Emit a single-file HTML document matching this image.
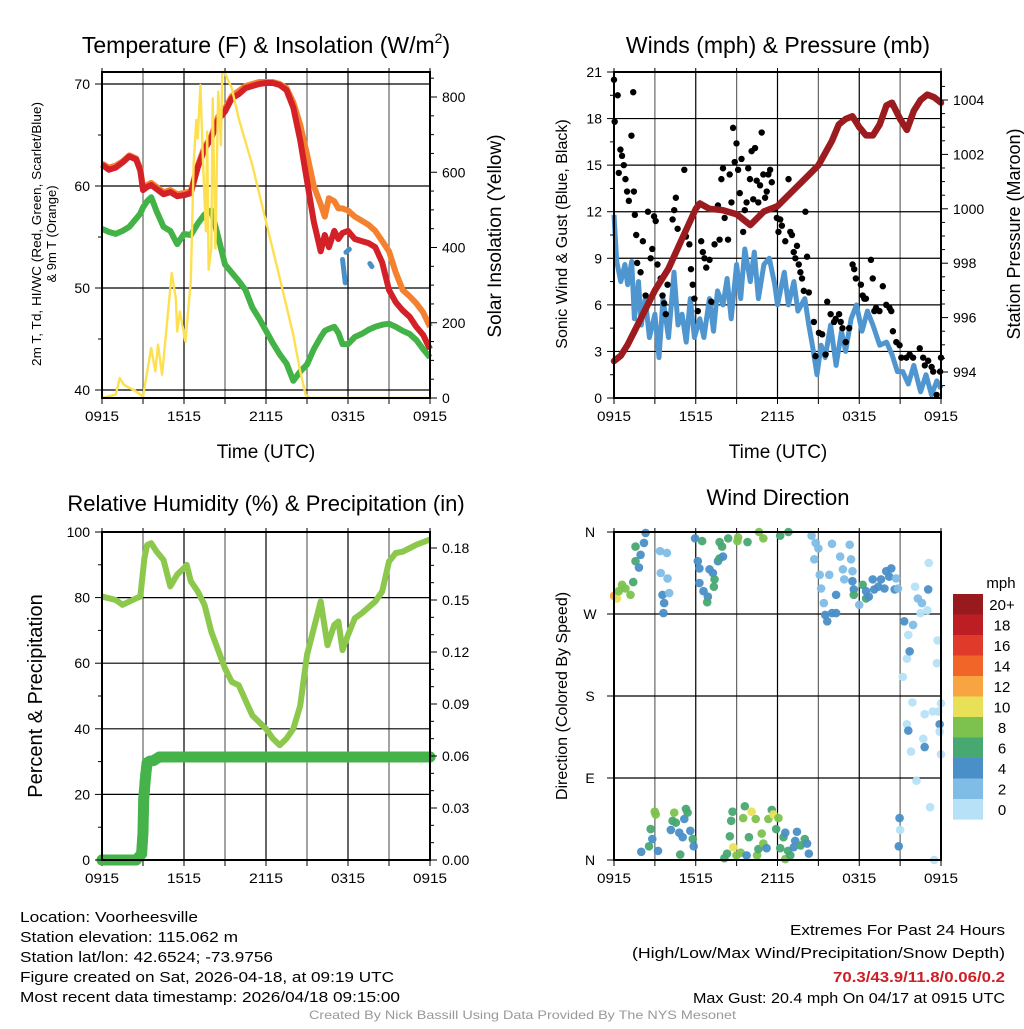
<!DOCTYPE html>
<html><head><meta charset="utf-8"><style>
html,body{margin:0;padding:0;background:#fff}
svg text{font-family:"Liberation Sans",Arial,sans-serif;fill:#000}
</style></head><body>
<svg id="chart" width="1024" height="1024" viewBox="0 0 1024 1024" xmlns="http://www.w3.org/2000/svg">
<rect width="1024" height="1024" fill="#fff"/>
<g id="p1"></g>
<g id="p2"></g>
<g id="p3"></g>
<g id="p4"></g>
<g id="legend"></g>
<text x="266" y="53" font-size="23" text-anchor="middle">Temperature (F) &amp; Insolation (W/m<tspan dy="-10" font-size="14">2</tspan><tspan dy="10">)</tspan></text>
<g font-size="15">
<text x="20" y="922" textLength="178" lengthAdjust="spacingAndGlyphs">Location: Voorheesville</text>
<text x="20" y="942" textLength="218" lengthAdjust="spacingAndGlyphs">Station elevation: 115.062 m</text>
<text x="20" y="962" textLength="253" lengthAdjust="spacingAndGlyphs">Station lat/lon: 42.6524; -73.9756</text>
<text x="20" y="982" textLength="374" lengthAdjust="spacingAndGlyphs">Figure created on Sat, 2026-04-18, at 09:19 UTC</text>
<text x="20" y="1002" textLength="380" lengthAdjust="spacingAndGlyphs">Most recent data timestamp: 2026/04/18 09:15:00</text>
</g>
<g font-size="15">
<text x="790" y="935" textLength="215" lengthAdjust="spacingAndGlyphs">Extremes For Past 24 Hours</text>
<text x="632" y="958" textLength="373" lengthAdjust="spacingAndGlyphs">(High/Low/Max Wind/Precipitation/Snow Depth)</text>
<text x="833" y="982" textLength="172" lengthAdjust="spacingAndGlyphs" font-weight="bold" style="fill:#cc1f26">70.3/43.9/11.8/0.06/0.2</text>
<text x="693" y="1003" textLength="312" lengthAdjust="spacingAndGlyphs">Max Gust: 20.4 mph On 04/17 at 0915 UTC</text>
</g>
<text x="309" y="1019" font-size="12" textLength="427" lengthAdjust="spacingAndGlyphs" style="fill:#999">Created By Nick Bassill Using Data Provided By The NYS Mesonet</text>
</svg>
<script>
// ---- Panel 1 data (hours since 0915 UTC) ----
const tT=[0,0.5,1,1.5,2,2.5,2.8,3,3.3,3.6,4,4.5,5,5.5,6,6.5,7,7.5,8,8.5,9,9.5,10,10.5,11,11.5,12,12.5,13,13.5,14,14.5,15,15.5,16,16.3,16.6,17,17.3,17.6,18,18.5,19,19.5,20,20.5,21,21.5,22,22.5,23,23.5,24];
const airT=[62.1,61.6,61.8,62.3,62.9,62.6,61.5,59.6,59.9,60.1,59.7,59.2,59.4,59.0,59.1,59.3,61.8,63.6,64.7,66.5,67.3,68.6,69.0,69.6,69.8,70.0,70.1,70.1,69.9,69.4,67.7,64.5,60.5,56.5,53.6,55.2,54.0,55.6,54.8,55.4,55.6,54.8,54.6,54.4,54.0,52.5,49.8,48.6,47.8,47.2,46.2,45.4,44.0];
const nineT=[62.2,61.8,62.0,62.4,63.0,62.7,61.7,59.8,60.1,60.3,59.9,59.4,59.6,59.2,59.3,59.5,62.0,63.8,64.9,66.8,67.6,68.8,69.3,69.8,70.0,70.2,70.2,70.2,70.0,69.6,68.2,66.0,63.1,60.0,58.2,57.0,58.8,58.5,57.8,57.8,57.6,57.0,56.6,56.2,55.6,54.6,53.6,51.5,49.8,49.2,48.5,47.6,46.2];
const dewT=[55.8,55.5,55.3,55.6,56.0,56.8,57.3,57.9,58.5,58.9,57.5,56.0,55.6,54.3,55.3,55.2,56.3,57.2,57.6,55.0,52.3,51.5,50.7,49.8,48.1,47.0,45.8,44.6,43.5,42.6,40.9,41.8,42.5,44.0,45.2,45.8,46.0,46.2,45.6,44.5,44.5,45.2,45.5,45.9,46.2,46.4,46.5,46.2,45.8,45.5,44.9,44.0,43.2];
const wcT=[17.6,17.8,17.85,18.1,18.2,19.6,19.75];
const wcV=[52.8,50.5,53.5,53.8,53.2,52.4,52.1];
const solT=[0,1,1.3,1.6,2,2.4,3,3.6,3.9,4.1,4.4,4.7,5.1,5.4,5.5,5.7,6.1,6.5,6.7,6.9,7,7.2,7.4,7.6,7.7,7.8,8,8.1,8.3,8.5,8.7,8.8,9,9.5,10,11,12,13,14,14.5,14.9,15.2,24];
const solV=[0,9,53,35,27,20,4,133,71,142,62,177,332,265,177,230,150,310,620,739,690,832,620,443,708,341,398,796,398,814,672,867,863,823,743,619,469,319,168,71,9,0,0];
// ---- Panel 2 data ----
const sonT=[0,0.2,0.5,0.8,1,1.3,1.5,1.8,2,2.3,2.6,3,3.3,3.6,4,4.4,4.7,5,5.3,5.6,5.9,6.3,6.6,7,7.3,7.6,8,8.3,8.6,9,9.3,9.6,10,10.3,10.6,11,11.4,11.8,12,12.5,12.8,13.2,13.5,14,14.3,14.6,14.9,15.2,15.5,15.9,16.3,16.7,17,17.4,17.8,18.2,18.6,19,19.5,20,20.4,20.8,21.2,21.6,22,22.5,22.9,23.3,23.7,24];
const sonV=[11.8,8.8,7.5,8.6,7.3,8.8,5.1,7.5,4.7,6.4,3.9,5.4,2.6,6.4,3.9,8.1,4.7,5.4,3.6,6.4,3.9,5.1,3.9,6.4,4.3,6.9,6.0,7.7,5.1,8.6,6.4,9.6,7.5,9.4,6.4,8.6,9.0,7.3,6.0,8.1,6.0,7.5,5.6,6.4,4.7,3.2,1.5,3.4,2.6,4.7,2.1,4.3,3.0,5.1,6.0,4.3,5.6,4.7,3.4,3.6,2.8,1.7,1.7,0.9,2.1,0.4,1.5,0.2,1.1,0.6];
const gustT=[0,0.05,0.27,0.35,0.47,0.59,0.72,0.84,0.96,1.09,1.41,1.28,1.46,1.53,1.63,1.70,1.95,2.12,2.32,2.49,2.69,2.81,2.94,3.06,3.19,3.43,3.56,3.68,3.80,3.93,4.30,4.42,4.54,4.67,5.16,5.28,5.53,5.65,5.78,5.90,6.15,6.40,6.52,6.64,6.77,7.01,7.14,7.38,7.63,7.75,7.88,8.00,8.12,8.37,8.49,8.62,8.74,8.86,8.99,9.11,9.23,9.36,9.48,9.60,9.73,9.85,9.98,10.10,10.22,10.35,10.47,10.59,10.72,10.84,10.96,11.09,11.21,11.33,11.46,11.58,11.83,11.95,12.07,12.20,12.32,12.57,12.81,12.94,13.06,13.19,13.31,13.43,13.56,13.68,13.80,13.93,14.05,14.17,14.30,14.67,14.79,15.04,15.28,15.53,15.65,15.90,16.15,16.27,16.52,16.64,16.77,17.01,17.26,17.51,17.63,17.75,18.12,18.25,18.37,18.49,18.86,18.99,19.11,19.23,19.48,19.73,19.98,20.22,20.35,20.47,20.72,20.96,21.09,21.46,21.70,21.95,22.44,22.69,22.81,23.06,23.31,23.43,23.68,23.93,24.0];
const gustV=[20.5,17.8,19.5,14.5,16.0,15.6,15.0,14.1,13.3,12.7,19.7,16.9,13.3,11.8,10.5,8.7,8.1,10.1,6.6,12.0,9.0,9.6,11.7,11.4,8.6,7.7,6.6,6.1,5.4,7.3,11.5,12.1,12.9,10.9,14.7,10.4,9.9,8.3,7.3,6.4,5.6,10.1,9.4,9.0,8.4,8.9,6.2,9.9,12.4,10.2,14.1,14.8,11.6,10.2,14.4,12.6,17.4,15.2,16.4,14.7,13.2,15.4,10.7,12.1,12.6,14.8,14.1,15.9,12.8,16.1,14.0,12.6,13.7,17.1,14.4,12.9,13.3,14.4,14.7,13.9,12.2,11.6,10.7,11.5,11.1,10.1,14.1,10.7,10.5,9.4,9.0,9.8,8.6,8.1,7.7,6.9,12.0,9.1,6.8,4.9,2.7,4.2,4.1,2.8,6.2,5.4,4.9,5.1,5.4,4.9,4.5,3.6,4.5,8.6,8.3,7.7,7.3,6.6,6.4,6.4,8.9,7.7,5.6,5.8,5.6,7.2,6.0,5.8,5.6,4.3,3.6,3.4,2.6,2.6,2.8,2.6,3.2,2.6,2.1,2.4,2.0,1.7,0.2,1.7,2.6];
const presT=[0,0.5,1,2,3,4,5,6,6.3,7,8,9,10,11,12,13,14,15,16,16.5,17,17.5,18,18.5,19,19.5,20,20.4,21,21.5,22,22.5,23,23.5,24];
const presV=[994.4,994.6,995.0,996.0,997.0,997.8,998.9,1000.0,1000.2,1000.0,999.95,999.8,999.4,999.9,1000.1,1000.6,1001.1,1001.6,1002.5,1003.1,1003.3,1003.4,1003.0,1002.7,1002.7,1003.1,1003.8,1003.9,1003.3,1002.9,1003.6,1004.0,1004.2,1004.1,1003.9];
// ---- Panel 3 data ----
const rhT=[0,1,1.5,2.5,2.8,3.1,3.3,3.6,4,4.5,5,5.5,6,6.2,6.5,7,7.5,8,9,9.5,10,11,12,12.5,13,13.5,14,14.5,15,15.5,16,16.5,17,17.3,17.6,18,18.5,19,20,20.5,21,21.5,22,23,24];
const rhV=[80.3,79.3,77.8,79.8,80.3,92,96,96.6,94,91.5,83.4,87,89,90,85,81.9,77.8,69.6,58.4,54.3,53.3,44.1,40,37,35,37,40,47,62.5,70.6,78.8,65.5,71.7,72.7,64,68.6,73.7,75.2,78.8,81.9,91,93.6,94,96.1,97.7];
const prT=[0,0.5,1,1.5,2,2.5,2.9,3.0,3.05,3.1,3.15,3.2,3.3,3.5,3.8,4.2,5,6,8,10,12,14,16,18,20,22,24];
const prV=[0,0,0,0,0,0,0.0035,0.016,0.035,0.04,0.045,0.049,0.056,0.057,0.0575,0.0594,0.0594,0.0594,0.0594,0.0594,0.0594,0.0594,0.0594,0.0594,0.0594,0.0594,0.0594];
// ---- Panel 4 data ----
const dirT=[0,0.22,0.35,0.59,0.84,1.21,1.41,1.58,1.58,1.83,1.95,2.2,2.32,3.38,3.88,3.43,3.93,3.56,4.05,3.68,3.63,5.95,6.47,6.15,6.27,6.27,6.57,6.89,6.84,7.01,7.26,7.38,7.33,7.63,7.75,8.0,7.93,7.75,8.38,9.06,9.11,9.8,10.64,10.96,12.2,12.8,14.5,14.8,14.7,15.0,15.1,15.2,15.4,15.5,15.65,16.0,16.3,15.8,16.0,16.3,16.6,16.8,16.9,17.3,17.4,17.5,17.5,17.6,17.6,18.0,18.25,18.5,18.5,18.7,18.99,19.1,19.4,19.6,19.85,19.98,20.2,20.35,20.6,20.7,20.84,21.3,21.6,21.5,21.2,21.7,21.95,22.1,22.3,22.6,22.5,23.06,23.0,23.1,23.75,23.7,21.9,21.5,21.6,21.8,22.8,23.4,23.8,24,23.9,23.9,22.7,22.8,24,22.2,23.2,20.96,21.0,20.9,23.5,
2.0,2.57,2.69,2.81,2.99,3.06,3.23,4.17,4.3,4.42,4.54,4.79,5.04,5.16,5.28,5.4,5.6,5.78,5.85,4.86,8.1,8.3,8.5,8.6,8.7,8.75,8.99,9.3,9.48,9.6,9.73,9.9,10.1,10.4,10.5,10.6,10.84,10.96,11.2,11.33,11.58,11.7,11.9,12.07,12.2,12.44,12.57,12.57,12.77,12.94,13.19,13.3,13.43,13.7,14.0,14.17,14.3];
const dirV=[290,287,295,302,298,291,305,328,344,321,335,348,359,339,337,315,309,291,293,282,271,353,350,328,320,304,295,289,283,319,315,308,300,328,331,333,344,349,353,350,354,349,360,353,356,360,356,348,330,342,313,298,282,269,262,271,271,313,347,291,333,319,308,346,330,317,306,297,291,280,302,287,295,289,308,297,300,308,298,317,311,320,297,309,298,262,247,221,201,229,258,300,287,282,271,297,274,326,241,216,173,149,142,119,160,163,163,172,149,141,133,124,116,87,58,46,33,15,0,
9,15,34,23,53,50,10,33,43,52,41,30,25,45,56,52,32,23,15,6,2,7,26,43,53,14,5,8,46,59,5,25,53,45,5,12,29,18,13,45,55,50,34,46,13,25,30,1,10,5,14,21,31,16,23,18,7];
const dirS=[13,11,9,9,9,9,7,7,7,5,5,5,5,3,3,3,3,5,3,5,5,5,7,5,5,5,5,5,7,5,5,7,7,5,7,5,7,7,7,9,9,7,9,9,7,7,3,3,3,3,3,3,3,5,5,5,5,3,3,5,3,3,3,3,3,3,5,5,7,3,7,7,5,5,5,5,5,5,5,5,5,5,5,3,3,5,1,1,1,5,3,1,3,3,1,5,1,1,1,1,1,1,5,1,1,1,1,1,5,1,1,5,1,1,1,5,1,5,1,
5,7,7,5,9,9,5,5,7,9,7,5,5,5,7,7,5,7,5,7,7,7,7,7,7,10.5,9,9,9,7,5,7,10.5,9,9,7,9,9,5,9,7,10.5,7,9,7,7,5,9,7,7,5,5,5,7,7,5,5];
const legendLabels=["20+","18","16","14","12","10","8","6","4","2","0"];
const legendColors=["#981a1d","#bd1e24","#e03a2b","#f26529","#f8a541","#e8e158","#7dc24e","#48a872","#4a8fc8","#7fbce6","#b6e1f7"];
const timeLabels=["0915","1515","2115","0315","0915"];

const NS="http://www.w3.org/2000/svg";
function mk(parent,tag,attrs,name,inter){const e=document.createElementNS(NS,tag);for(const k in attrs)e.setAttribute(k,attrs[k]);


parent.appendChild(e);return e;}
function txt(parent,x,y,s,size,anchor,name,extra){const t=mk(parent,'text',Object.assign({x:x,y:y,'font-size':size,'text-anchor':anchor||'start'},extra||{}),name,false);t.textContent=s;return t;}
function lin(a,b,c,d){return (v)=>c+(v-a)*(d-c)/(b-a);}
function path(xs,ys,fx,fy){let d="";for(let i=0;i<xs.length;i++)d+=(i?"L":"M")+fx(xs[i]).toFixed(1)+","+fy(ys[i]).toFixed(1);return d;}

function frame(g,L,T,R,B,vGrid,hGrid,fx){
  for(let h=0;h<=24;h+=3){const x=fx(h);
    mk(g,'line',{x1:x,y1:T,x2:x,y2:B,stroke:(h%6==0?'#000':'#666'),'stroke-width':1.2},'x-gridline',false);
    mk(g,'line',{x1:x,y1:B,x2:x,y2:B+6,stroke:'#000','stroke-width':1},'x-tick',false);
    mk(g,'line',{x1:x,y1:T,x2:x,y2:T-4,stroke:'#000','stroke-width':1},'x-tick-top',false);}
  hGrid.forEach(y=>mk(g,'line',{x1:L,y1:y,x2:R,y2:y,stroke:'#000','stroke-width':1.2},'y-gridline',false));
  timeLabels.forEach((s,i)=>txt(g,fx(i*6),B+23,s,14,'middle','x-tick-label',{textLength:34,lengthAdjust:'spacingAndGlyphs'}));
}
function border(g,L,T,R,B){mk(g,'rect',{x:L,y:T,width:R-L,height:B-T,fill:'none',stroke:'#000','stroke-width':2},'plot-border',false);}
function yTicks(g,vals,fy,x,side,labels,minor){
  vals.forEach((v,i)=>{const y=fy(v);
    mk(g,'line',{x1:x,y1:y,x2:x+(side<0?-7:7),y2:y,stroke:'#000','stroke-width':1},'y-tick',false);
    txt(g,x+(side<0?-12:12),y+5,labels[i],14,side<0?'end':'start','y-tick-label');});
  (minor||[]).forEach(v=>{const y=fy(v);mk(g,'line',{x1:x,y1:y,x2:x+(side<0?-4:4),y2:y,stroke:'#000','stroke-width':1},'y-minor-tick',false);});
}
function vlabel(g,x,y,s,size,name,len){const t=txt(g,x,y,s,size,'middle',name,{transform:`rotate(-90 ${x} ${y})`});if(len){t.setAttribute('textLength',len);t.setAttribute('lengthAdjust','spacingAndGlyphs');}return t;}

// ===== Panel 1 =====
(function(){const g=document.getElementById('p1');const L=102,T=72,R=430,B=398;
const fx=lin(0,24,L,R),fy=lin(40,70,390,84),fs=lin(0,800,398,97);
frame(g,L,T,R,B,true,[fy(40),fy(50),fy(60),fy(70)],fx);
mk(g,'path',{d:path(tT,nineT,fx,fy),fill:'none',stroke:'#f4812f','stroke-width':6,'stroke-linejoin':'round'},'9m-temperature-line',false);
mk(g,'path',{d:path(tT,airT,fx,fy),fill:'none',stroke:'#d42027','stroke-width':6,'stroke-linejoin':'round'},'air-temperature-line',false);
mk(g,'path',{d:path(tT,dewT,fx,fy),fill:'none',stroke:'#43b347','stroke-width':6,'stroke-linejoin':'round'},'dewpoint-line',false);
const wcd="M"+fx(wcT[0])+","+fy(wcV[0])+"L"+fx(wcT[1])+","+fy(wcV[1])+"M"+fx(wcT[2])+","+fy(wcV[2])+"L"+fx(wcT[3])+","+fy(wcV[3])+"M"+fx(wcT[5])+","+fy(wcV[5])+"L"+fx(wcT[6])+","+fy(wcV[6]);
mk(g,'path',{d:wcd,fill:'none',stroke:'#4a90c8','stroke-width':5,'stroke-linecap':'round'},'wind-chill-line',false);
mk(g,'path',{d:path(solT,solV,fx,fs),fill:'none',stroke:'#fde050','stroke-width':2.4,'stroke-linejoin':'round'},'solar-insolation-line',false);
border(g,L,T,R,B);
yTicks(g,[40,50,60,70],fy,L,-1,["40","50","60","70"],[45,55,65]);
yTicks(g,[0,200,400,600,800],fs,R,1,["0","200","400","600","800"],[50,100,150,250,300,350,450,500,550,650,700,750,850]);
txt(g,266,458,"Time (UTC)",19,'middle','x-axis-title');
vlabel(g,41,234,"2m T, Td, HI/WC (Red, Green, Scarlet/Blue)",13,'y-axis-title-line1',264);
vlabel(g,56,234,"& 9m T (Orange)",13,'y-axis-title-line2');
vlabel(g,501,236,"Solar Insolation (Yellow)",19,'y2-axis-title');
})();

// ===== Panel 2 =====
(function(){const g=document.getElementById('p2');const L=614,T=72,R=941,B=398;
const fx=lin(0,24,L,R),fy=lin(0,21,B,T),fp=lin(994,1004,372,100);
const hg=[];for(let v=3;v<21;v+=3)hg.push(fy(v));
frame(g,L,T,R,B,true,hg,fx);
mk(g,'path',{d:path(sonT,sonV,fx,fy),fill:'none',stroke:'#4f96d0','stroke-width':5,'stroke-linejoin':'round'},'sonic-wind-line',false);
gustT.forEach((t,i)=>mk(g,'circle',{cx:fx(t),cy:fy(gustV[i]),r:3.2,fill:'#000'},'gust-point',false));
mk(g,'path',{d:path(presT,presV,fx,fp),fill:'none',stroke:'#9b1b1e','stroke-width':6.5,'stroke-linejoin':'round','stroke-linecap':'round'},'pressure-line',false);
border(g,L,T,R,B);
const yv=[0,3,6,9,12,15,18,21];yTicks(g,yv,fy,L,-1,yv.map(String),[1.5,4.5,7.5,10.5,13.5,16.5,19.5]);
const pv=[994,996,998,1000,1002,1004];yTicks(g,pv,fp,R,1,pv.map(String),[993.5,994.5,995,995.5,996.5,997,997.5,998.5,999,999.5,1000.5,1001,1001.5,1002.5,1003,1003.5,1004.5]);
txt(g,778,53,"Winds (mph) & Pressure (mb)",23,'middle','panel-title');
txt(g,778,458,"Time (UTC)",19,'middle','x-axis-title');
vlabel(g,567,234,"Sonic Wind & Gust (Blue, Black)",16,'y-axis-title');
vlabel(g,1020,234,"Station Pressure (Maroon)",18,'y2-axis-title');
})();

// ===== Panel 3 =====
(function(){const g=document.getElementById('p3');const L=102,T=532,R=430,B=860;
const fx=lin(0,24,L,R),fy=lin(0,100,B,T),fp=lin(0,0.06,B,756);
frame(g,L,T,R,B,true,[fy(20),fy(40),fy(60),fy(80)],fx);
mk(g,'path',{d:path(rhT,rhV,fx,fy),fill:'none',stroke:'#8cc84b','stroke-width':6,'stroke-linejoin':'round'},'humidity-line',false);
mk(g,'path',{d:path(prT,prV,fx,fp),fill:'none',stroke:'#45b34a','stroke-width':11,'stroke-linejoin':'round','stroke-linecap':'round'},'precipitation-line',false);
prT.forEach((t,i)=>mk(g,'circle',{cx:fx(t),cy:fp(prV[i]),r:5.5,fill:'#45b34a'},'precipitation-point',false));
border(g,L,T,R,B);
const yv=[0,20,40,60,80,100];yTicks(g,yv,fy,L,-1,yv.map(String),[10,30,50,70,90]);
const pv=[0,0.03,0.06,0.09,0.12,0.15,0.18];yTicks(g,pv,fp,R,1,pv.map(v=>v.toFixed(2)),[0.01,0.02,0.04,0.05,0.07,0.08,0.10,0.11,0.13,0.14,0.16,0.17]);
txt(g,266,511,"Relative Humidity (%) & Precipitation (in)",22,'middle','panel-title');
vlabel(g,42,696,"Percent & Precipitation",20,'y-axis-title');
})();

// ===== Panel 4 =====
function spColor(s){const idx=Math.min(10,Math.max(0,Math.floor(s/2)));return legendColors[10-idx];}
(function(){const g=document.getElementById('p4');const L=614,T=532,R=941,B=860;
const fx=lin(0,24,L,R),fy=lin(0,360,B,T);
frame(g,L,T,R,B,true,[fy(90),fy(180),fy(270)],fx);
dirT.forEach((t,i)=>mk(g,'circle',{cx:fx(t),cy:fy(dirV[i]),r:4.3,fill:spColor(dirS[i]),'fill-opacity':0.95},'direction-point',false));
border(g,L,T,R,B);
const dv=[0,90,180,270,360],dl=["N","E","S","W","N"];
dv.forEach((v,i)=>{const y=fy(v);mk(g,'line',{x1:L,y1:y,x2:L-7,y2:y,stroke:'#000'},'y-tick',false);txt(g,590,y+5,dl[i],14,'middle','y-tick-label');});
txt(g,778,505,"Wind Direction",22,'middle','panel-title');
vlabel(g,567,696,"Direction (Colored By Speed)",16,'y-axis-title');
})();

// ===== Legend =====
(function(){const g=document.getElementById('legend');
txt(g,1001,588,"mph",15,'middle','legend-title');
legendColors.forEach((c,i)=>{const y=594+i*20.5;
  mk(g,'rect',{x:953,y:y,width:30,height:20.6,fill:c},'legend-swatch',false);
  txt(g,1002,y+16,legendLabels[i],15,'middle','legend-label');});
})();
</script>
</body></html>
